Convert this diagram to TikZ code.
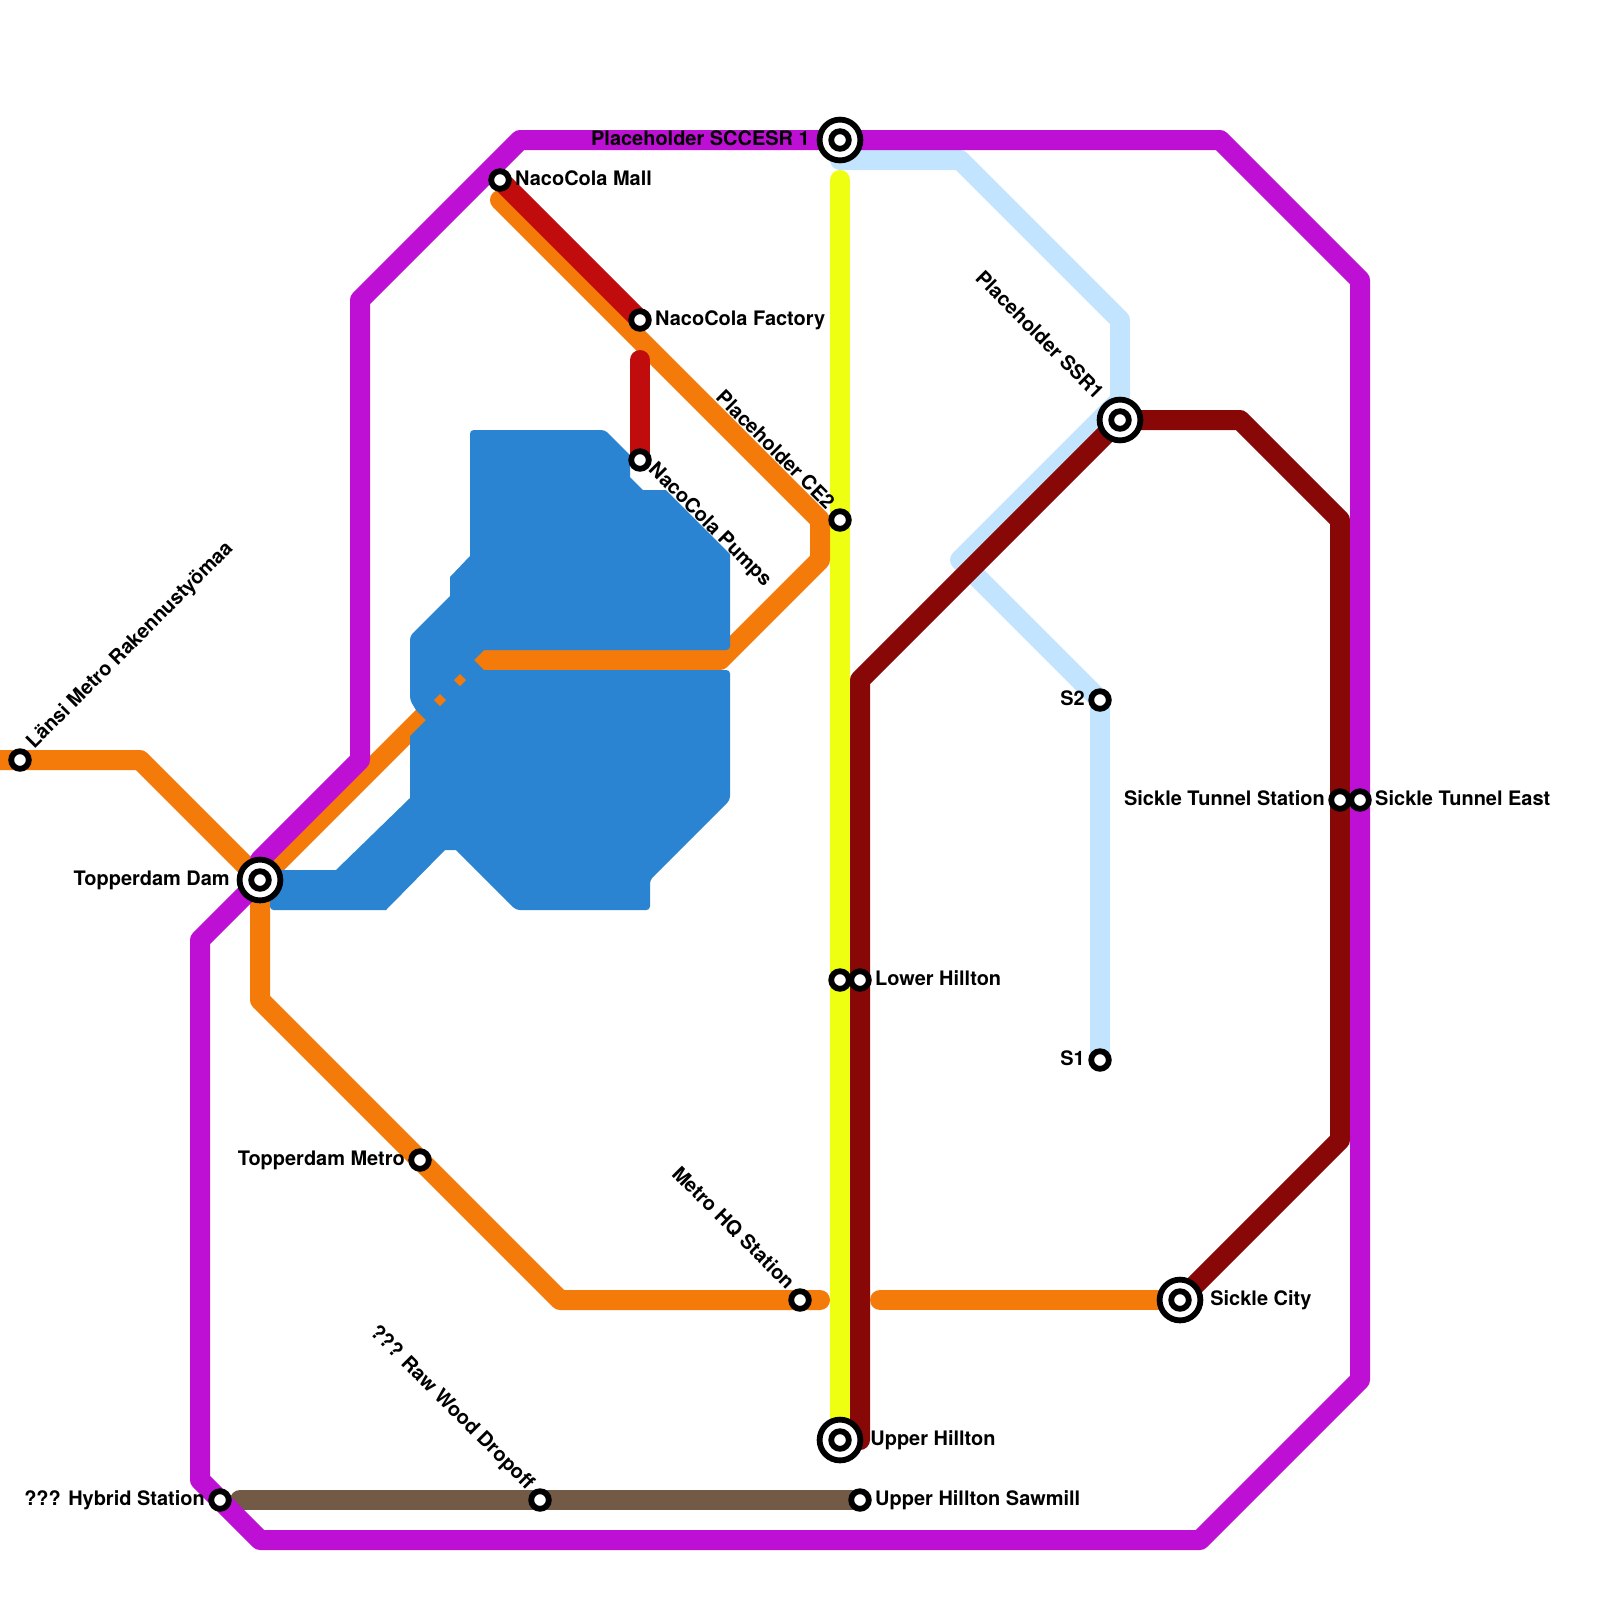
\documentclass[tikz,border=0pt]{standalone}
\usepackage{fontspec}
\setmainfont{TeX Gyre Heros}
\usetikzlibrary{positioning,calc}

\definecolor{linepurple}{HTML}{BD10D4}
\definecolor{lineorange}{HTML}{F47A0A}
\definecolor{lineblue}{HTML}{2B84D2}
\definecolor{linered}{HTML}{C00C0C}
\definecolor{linemaroon}{HTML}{880808}
\definecolor{lineyellow}{HTML}{EEFF11}
\definecolor{linesky}{HTML}{C2E4FF}
\definecolor{linebrown}{HTML}{725A47}

\begin{document}
\begin{tikzpicture}[x=0.5cm, y=-0.5cm,
    route/.style={line width=5mm, line join=round, line cap=round},
    stopmark/.style={circle, draw, fill=white, line width=1.45mm, minimum size=4.4mm, inner sep=0pt},
    hubmark/.style={stopmark, minimum size=10.2mm},
    stoplabel/.style={font=\bfseries\fontsize{14.2}{16}\selectfont, inner sep=0pt, text height=3.4mm, text depth=0.9mm}]
  \useasboundingbox (0,0) rectangle (80,80);
  % stations, their marks come after the lines
  \coordinate (lansi) at (1,38);
  \coordinate (dam) at (13,44);
  \coordinate (mall) at (25,9);
  \coordinate (factory) at (32,16);
  \coordinate (pumps) at (32,23);
  \coordinate (sccesr) at (42,7);
  \coordinate (ce) at (42,26);
  \coordinate (ssr) at (56,21);
  \coordinate (stwo) at (55,35);
  \coordinate (sone) at (55,53);
  \coordinate (tunnel) at (67,40);
  \coordinate (tunneleast) at (68,40);
  \coordinate (hillton) at (42,49);
  \coordinate (lower) at (43,49);
  \coordinate (upper) at (42,72);
  \coordinate (sawmill) at (43,75);
  \coordinate (city) at (59,65);
  \coordinate (hq) at (40,65);
  \coordinate (metro) at (21,58);
  \coordinate (dropoff) at (27,75);
  \coordinate (hybrid) at (11,75);
  % lines
  \draw[route, linesky] (42,8) -- (48,8) -- (56,16) -- (56,20) -- (48,28) -- (stwo) -- (sone);
  \draw[route, linebrown] (12,75) -- (dropoff) -- (sawmill);
  \draw[route, lineyellow] (42,9) -- (upper);
  \draw[route, linemaroon] (43,72) -- (43,34) -- (ssr) -- (62,21) -- (67,26) -- (67,57) -- (city);
  \draw[route, lineorange] (-1,38) -- (7,38) -- (dam) -- (13,50) -- (28,65) -- (41,65);
  \draw[route, lineorange] (dam) -- (24,33) -- (36,33) -- (41,28) -- (41,26) -- (25,10);
  \draw[route, lineorange] (44,65) -- (city);
  \draw[route, linered] (mall) -- (factory);
  \draw[route, linered] (32,18) -- (pumps);
  \draw[route, linepurple] (18,38) -- (18,15) -- (26,7) -- (61,7) -- (68,14) -- (68,69) -- (60,77) -- (13,77) -- (10,74) -- (10,47) -- (13,44) -- (13,43) -- cycle;
  % the reservoir
  \fill[lineblue, rounded corners=0.9mm] (27,21.5) -- (30.25,21.5)
    [sharp corners] -- (31.5,22.75) -- (31.5,23.85) -- (32.15,24.5) -- (33.3,24.5) -- (36.5,27.7) [rounded corners=0.9mm] -- (36.5,32.5)
    [sharp corners] -- (24.2,32.5) -- (23.7,33) -- (24.2,33.5) [rounded corners=0.9mm] -- (36.5,33.5) -- (36.5,40) -- (32.5,44) -- (32.5,45.5) -- (25.8,45.5)
    [sharp corners] -- (22.8,42.5) -- (22.25,42.5) -- (19.3,45.5) [rounded corners=0.9mm] -- (13.5,45.5) -- (13.5,43.5)
    [sharp corners] -- (16.8,43.5) -- (20.5,39.9)
    -- (20.5,36.8) -- (21.3,36) -- (20.8,35.5) [rounded corners=0.9mm] -- (20.5,35) -- (20.5,31.8)
    [sharp corners] -- (22.5,29.8) -- (22.5,28.85) -- (23.5,27.8) [rounded corners=0.9mm] -- (23.5,21.5) -- cycle;
  \fill[lineorange] (22,34.7) -- (22.3,35) -- (22,35.3) -- (21.7,35) -- cycle;
  \fill[lineorange] (23,33.7) -- (23.3,34) -- (23,34.3) -- (22.7,34) -- cycle;
  % stops
  \foreach \n in {dam, sccesr, ssr, upper, city} \node[hubmark] at (\n) {};
  \node[stopmark] (lansistop) at (lansi) {};
  \node[stopmark] (damstop) at (dam) {};
  \node[stopmark] (mallstop) at (mall) {};
  \node[stopmark] (factorystop) at (factory) {};
  \node[stopmark] (pumpsstop) at (pumps) {};
  \node[stopmark] (sccesrstop) at (sccesr) {};
  \node[stopmark] (cestop) at (ce) {};
  \node[stopmark] (ssrstop) at (ssr) {};
  \node[stopmark] (stwostop) at (stwo) {};
  \node[stopmark] (sonestop) at (sone) {};
  \node[stopmark] (tunnelstop) at (tunnel) {};
  \node[stopmark] (eaststop) at (tunneleast) {};
  \node[stopmark] (hilltonstop) at (hillton) {};
  \node[stopmark] (lowerstop) at (lower) {};
  \node[stopmark] (upperstop) at (upper) {};
  \node[stopmark] (sawmillstop) at (sawmill) {};
  \node[stopmark] (citystop) at (city) {};
  \node[stopmark] (hqstop) at (hq) {};
  \node[stopmark] (metrostop) at (metro) {};
  \node[stopmark] (dropoffstop) at (dropoff) {};
  \node[stopmark] (hybridstop) at (hybrid) {};
  % names
  \node[stoplabel, left=7.5mm of dam] {Topperdam Dam};
  \node[stoplabel, left=7.5mm of sccesr] {Placeholder SCCESR 1};
  \node[stoplabel, right=7.5mm of upper] {Upper Hillton};
  \node[stoplabel, right=7.5mm of city] {Sickle City};
  \node[stoplabel, right=0.8mm of mallstop] {NacoCola Mall};
  \node[stoplabel, right=0.8mm of factorystop] {NacoCola Factory};
  \node[stoplabel, right=0.8mm of eaststop] {Sickle Tunnel East};
  \node[stoplabel, left=0.8mm of tunnelstop] {Sickle Tunnel Station};
  \node[stoplabel, right=0.8mm of lowerstop] {Lower Hillton};
  \node[stoplabel, right=0.8mm of sawmillstop] {Upper Hillton Sawmill};
  \node[stoplabel, left=0.8mm of metrostop] {Topperdam Metro};
  \node[stoplabel, left=0.8mm of hybridstop] {??? Hybrid Station};
  \node[stoplabel, left=0.8mm of stwostop] {S2};
  \node[stoplabel, left=0.8mm of sonestop] {S1};
  \node[stoplabel, rotate=45, anchor=west] at ($(lansi)+(0.53,-0.71)$) {Länsi Metro Rakennustyömaa};
  \node[stoplabel, rotate=-45, anchor=west] at ($(pumps)+(0.55,0.35)$) {NacoCola Pumps};
  \node[stoplabel, rotate=-45, anchor=east] at ($(ce)+(-0.5,-0.65)$) {Placeholder CE2};
  \node[stoplabel, rotate=-45, anchor=east] at ($(ssr)+(-1.05,-1.15)$) {Placeholder SSR1};
  \node[stoplabel, rotate=-45, anchor=east] at ($(hq)+(-0.5,-0.65)$) {Metro HQ Station};
  \node[stoplabel, rotate=-45, anchor=east] at ($(dropoff)+(-0.5,-0.65)$) {??? Raw Wood Dropoff};
\end{tikzpicture}
\end{document}
